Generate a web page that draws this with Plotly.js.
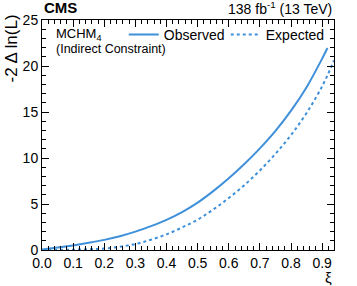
<!DOCTYPE html>
<html>
<head>
<meta charset="utf-8">
<script src="https://cdn.plot.ly/plotly-3.0.1.min.js"></script>
<style>html,body{margin:0;padding:0;background:#fff;}#chart{width:357px;height:286px;}</style>
</head>
<body>
<div id="chart"></div>
<script>
const xiObserved = [0, 0.05, 0.1, 0.15, 0.2, 0.25, 0.3, 0.35, 0.4, 0.45, 0.5, 0.55, 0.6, 0.65, 0.7, 0.75, 0.8, 0.85, 0.9, 0.917];
const observed   = [0.05, 0.28, 0.5, 0.78, 1.1, 1.5, 2.0, 2.6, 3.28, 4.12, 5.15, 6.4, 7.8, 9.35, 11.05, 12.95, 15.15, 17.7, 20.8, 21.95];
const xiExpected = [0, 0.05, 0.1, 0.15, 0.2, 0.25, 0.3, 0.35, 0.4, 0.45, 0.5, 0.55, 0.6, 0.65, 0.7, 0.75, 0.8, 0.85, 0.9, 0.938];
const expected   = [0, 0.01, 0.03, 0.08, 0.16, 0.35, 0.65, 1.12, 1.7, 2.45, 3.3, 4.4, 5.65, 7.05, 8.65, 10.45, 12.5, 14.9, 17.8, 20.6];
const seriesNames = ["Observed", "Expected"];
const xTickVals = [0, 0.1, 0.2, 0.3, 0.4, 0.5, 0.6, 0.7, 0.8, 0.9];
const xTickText = ["0.0", "0.1", "0.2", "0.3", "0.4", "0.5", "0.6", "0.7", "0.8", "0.9"];
const yTickVals = [0, 5, 10, 15, 20, 25];

const FONT = "Liberation Sans, Arial, Helvetica, sans-serif";
const BLUE = "#3f90da";

const traces = [
  {x: xiObserved, y: observed, name: seriesNames[0], mode: "lines", line: {color: BLUE, width: 2, shape: "spline"}},
  {x: xiExpected, y: expected, name: seriesNames[1], mode: "lines", line: {color: BLUE, width: 2, dash: "dot", shape: "spline"}}
];

const axisCommon = {
  showgrid: false, zeroline: false, showline: true, linecolor: "#000", linewidth: 1,
  mirror: "allticks", ticks: "inside", ticklen: 7, tickwidth: 1, tickcolor: "#000",
  tickfont: {family: FONT, size: 14, color: "#000"}
};

const layout = {
  width: 357, height: 286,
  margin: {l: 42, r: 23, t: 20, b: 36},
  paper_bgcolor: "#fff", plot_bgcolor: "#fff",
  font: {family: FONT, color: "#000"},
  xaxis: Object.assign({}, axisCommon, {
    range: [0, 0.938], tickmode: "array", tickvals: xTickVals, ticktext: xTickText,
    minor: {ticks: "inside", dtick: 0.02, ticklen: 4, tickcolor: "#000", tickwidth: 1}
  }),
  yaxis: Object.assign({}, axisCommon, {
    range: [0, 25], tickmode: "array", tickvals: yTickVals,
    minor: {ticks: "inside", dtick: 1, ticklen: 4, tickcolor: "#000", tickwidth: 1}
  }),
  showlegend: true,
  legend: {
    orientation: "h", x: 0.28, xanchor: "left", y: 0.935, yanchor: "middle",
    font: {family: FONT, size: 14, color: "#000"}, bgcolor: "rgba(0,0,0,0)",
    entrywidth: 57, entrywidthmode: "pixels", tracegroupgap: 0
  },
  annotations: [
    {text: "<b>CMS</b>", xref: "paper", yref: "paper", x: 0, y: 1, xanchor: "left", yanchor: "bottom", showarrow: false, font: {family: FONT, size: 15, color: "#000"}, yshift: 2},
    {text: "138 fb<sup>-1</sup> (13 TeV)", xref: "paper", yref: "paper", x: 1, y: 1, xanchor: "right", yanchor: "bottom", showarrow: false, font: {family: FONT, size: 14, color: "#000"}, yshift: 1},
    {text: "MCHM<sub>4</sub>", xref: "paper", yref: "paper", x: 0.04, y: 0.935, xanchor: "left", yanchor: "middle", showarrow: false, font: {family: FONT, size: 13, color: "#000"}},
    {text: "(Indirect Constraint)", xref: "paper", yref: "paper", x: 0.04, y: 0.875, xanchor: "left", yanchor: "middle", showarrow: false, font: {family: FONT, size: 12.5, color: "#000"}},
    {text: "-2 Δ ln(L)", xref: "paper", yref: "paper", x: 0, y: 1, xanchor: "right", yanchor: "top", xshift: -20, yshift: 7, textangle: -90, showarrow: false, font: {family: FONT, size: 17, color: "#000"}},
    {text: "ξ", xref: "paper", yref: "paper", x: 1, y: 0, xanchor: "right", yanchor: "top", yshift: -17, showarrow: false, font: {family: FONT, size: 15, color: "#000"}}
  ]
};

Plotly.newPlot("chart", traces, layout, {staticPlot: true, displayModeBar: false});
</script>
</body>
</html>
